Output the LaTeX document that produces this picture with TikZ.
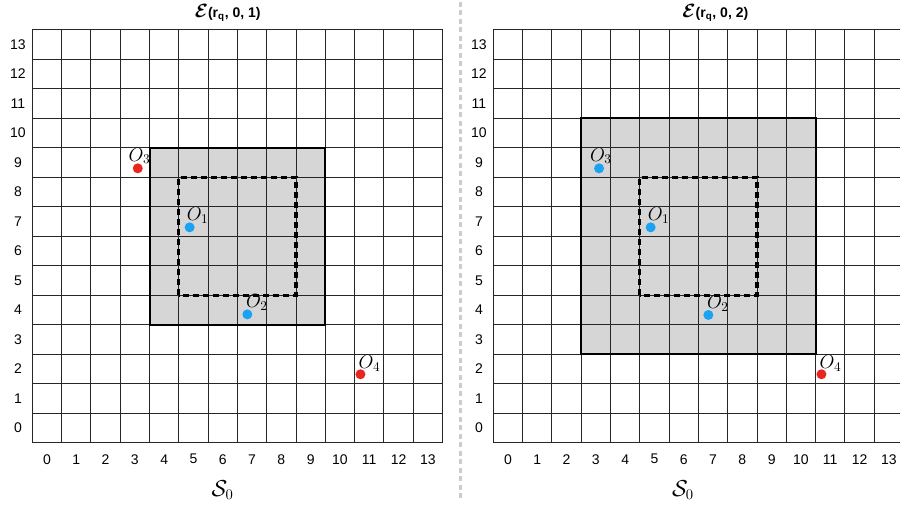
\documentclass[tikz,border=0pt]{standalone}
\usepackage{fontspec}
\usepackage{amsmath}
\usepackage{bm}
\setsansfont{Liberation Sans}
\definecolor{dotblue}{RGB}{25,163,242}
\definecolor{dotred}{RGB}{232,38,30}
\definecolor{shadegray}{RGB}{214,214,214}
\begin{document}
\begin{tikzpicture}[
  gridline/.style={line width=0.75pt, black!85},
  shadebox/.style={fill=shadegray},
  shadeborder/.style={line width=1.5pt, black},
  innerbox/.style={line width=2.5pt, black, dash pattern=on 4.5pt off 3pt},
  bluedot/.style={circle, fill=dotblue, inner sep=0pt, minimum size=7.5pt},
  reddot/.style={circle, fill=dotred, inner sep=0pt, minimum size=7.5pt},
  olabel/.style={anchor=base west, inner sep=0pt, font=\fontsize{14}{16}\selectfont},
  axlabel/.style={inner sep=0pt, font=\sffamily\fontsize{10.5}{12}\selectfont},
  titlelabel/.style={inner sep=0pt, font=\sffamily\bfseries\fontsize{10.5}{12}\selectfont},
  setlabel/.style={inner sep=0pt, font=\fontsize{16}{18}\selectfont},
  sep/.style={line width=2.25pt, black!20, dash pattern=on 3.75pt off 2.6pt}
]
\useasboundingbox (0,0) rectangle (675pt,382.5pt);
\clip (0,0) rectangle (675pt,382.5pt);

% separator
\coordinate (septop) at (345.5pt,381pt);
\coordinate (sepbot) at (345.5pt,7pt);
\draw[sep] (septop) -- (sepbot);

% left grid
\begin{scope}[shift={(24.225pt,50.475pt)}, x=21.975pt, y=22.125pt]
  \fill[shadebox] (4,4) rectangle (10,10);
  \foreach \k in {0,...,14} {
    \draw[gridline] (\k,0) -- (\k,14);
    \draw[gridline] (0,\k) -- (14,\k);
  }
  \draw[shadeborder] (4,4) rectangle (10,10);
  \draw[innerbox] (5,5) rectangle (9,9);
  \foreach \j in {0,...,13} \node[axlabel] (Lr\j) at (-0.49,\j+0.5) {\j};
  \foreach \i in {0,...,13} \node[axlabel] (Lc\i) at (\i+0.5,-0.56) {\i};
  \node[bluedot] (Ld1) at (5.37,7.3) {};
  \node[bluedot] (Ld2) at (7.34,4.35) {};
  \node[reddot] (Ld3) at (3.6,9.3) {};
  \node[reddot] (Ld4) at (11.2,2.32) {};
  \node[olabel] (Lo1) at ([xshift=-2.3pt,yshift=5pt]Ld1.center) {$O_1$};
  \node[olabel] (Lo2) at ([xshift=-1.2pt,yshift=5pt]Ld2.center) {$O_2$};
  \node[olabel] (Lo3) at ([xshift=-7pt,yshift=5.5pt]Ld3.center) {$O_3$};
  \node[olabel] (Lo4) at ([xshift=-1.5pt,yshift=4pt]Ld4.center) {$O_4$};
\end{scope}
\node[titlelabel] (Ltitle) at (170.8pt,372.75pt) {{\fontsize{13.5}{13.5}\selectfont$\bm{\mathcal{E}}$}(r\textsubscript{q}, 0, 1)};
\node[setlabel] (Lset) at (166.9pt,15pt) {$\mathcal{S}_0$};

% right grid
\begin{scope}[shift={(369.975pt,50.475pt)}, x=21.975pt, y=22.125pt]
  \fill[shadebox] (3,3) rectangle (11,11);
  \foreach \k in {0,...,14} {
    \draw[gridline] (\k,0) -- (\k,14);
    \draw[gridline] (0,\k) -- (14,\k);
  }
  \draw[shadeborder] (3,3) rectangle (11,11);
  \draw[innerbox] (5,5) rectangle (9,9);
  \foreach \j in {0,...,13} \node[axlabel] (Rr\j) at (-0.49,\j+0.5) {\j};
  \foreach \i in {0,...,13} \node[axlabel] (Rc\i) at (\i+0.5,-0.56) {\i};
  \node[bluedot] (Rd1) at (5.37,7.3) {};
  \node[bluedot] (Rd2) at (7.34,4.33) {};
  \node[bluedot] (Rd3) at (3.61,9.3) {};
  \node[reddot] (Rd4) at (11.2,2.32) {};
  \node[olabel] (Ro1) at ([xshift=-2.3pt,yshift=5pt]Rd1.center) {$O_1$};
  \node[olabel] (Ro2) at ([xshift=-1.2pt,yshift=5pt]Rd2.center) {$O_2$};
  \node[olabel] (Ro3) at ([xshift=-7pt,yshift=5.5pt]Rd3.center) {$O_3$};
  \node[olabel] (Ro4) at ([xshift=-1.5pt,yshift=4pt]Rd4.center) {$O_4$};
\end{scope}
\node[titlelabel] (Rtitle) at (536.5pt,372.75pt) {{\fontsize{13.5}{13.5}\selectfont$\bm{\mathcal{E}}$}(r\textsubscript{q}, 0, 2)};
\node[setlabel] (Rset) at (512.25pt,15pt) {$\mathcal{S}_0$};
\end{tikzpicture}
\end{document}
